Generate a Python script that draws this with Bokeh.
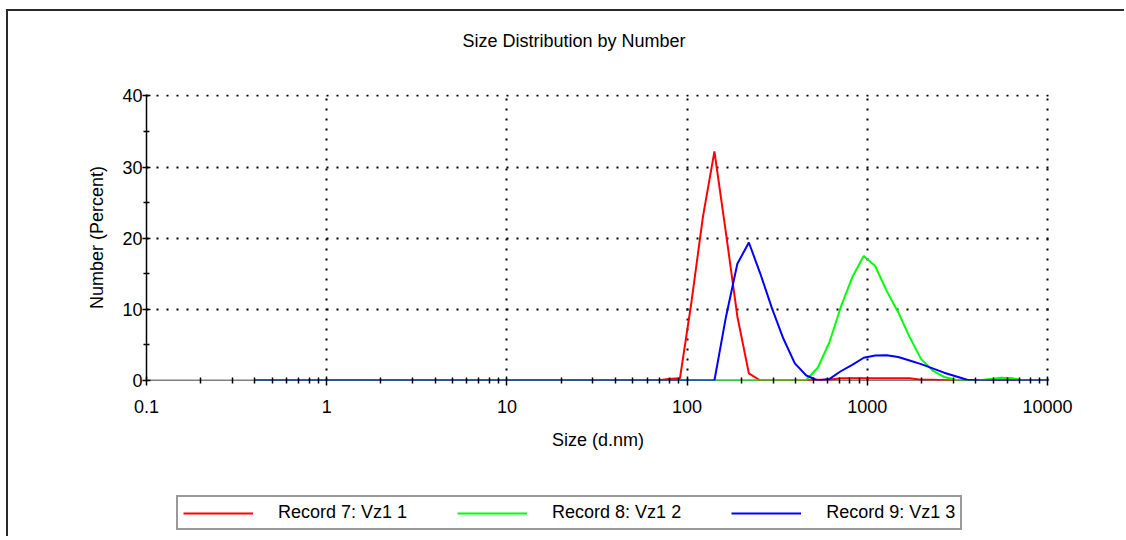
from bokeh.plotting import figure
from bokeh.layouts import column
from bokeh.models import (Range1d, FixedTicker, CustomJSTickFormatter, Legend, LegendItem, Span)
from bokeh.embed import file_html
from bokeh.resources import INLINE

# ---- data ----
sizes = [0.4, 0.4632, 0.5365, 0.6213, 0.7195, 0.8332, 0.9649, 1.117, 1.294, 1.499,
         1.736, 2.01, 2.328, 2.696, 3.122, 3.615, 4.187, 4.849, 5.615, 6.503,
         7.531, 8.721, 10.1, 11.7, 13.54, 15.69, 18.17, 21.04, 24.36, 28.21,
         32.67, 37.84, 43.82, 50.75, 58.77, 68.06, 78.82, 91.28, 105.7, 122.4,
         141.8, 164.2, 190.1, 220.2, 255.0, 295.3, 342.0, 396.1, 458.7, 531.2,
         615.1, 712.4, 825.0, 955.4, 1106, 1281, 1484, 1718, 1990, 2305,
         2669, 3091, 3580, 4145, 4801, 5560, 6439, 7456, 8635, 10000]

record7 = [0]*36 + [0.2, 0.3, 11.0, 23.0, 32.2, 20.8, 9.0, 1.0, 0.0, 0.0,
                    0.0, 0.0, 0.0, 0.1, 0.1, 0.3, 0.3, 0.3, 0.3, 0.3,
                    0.3, 0.3, 0.1, 0.1, 0.05, 0.0, 0.0, 0.0, 0.0, 0.0,
                    0.0, 0.0, 0.0, 0.0]
record8 = [0]*48 + [0.1, 1.8, 5.3, 10.3, 14.5, 17.5, 16.1, 12.6, 9.6, 6.1,
                    3.0, 1.4, 0.5, 0.1, 0.0, 0.0, 0.2, 0.4, 0.3, 0.0,
                    0.0, 0.0]
record9 = [0]*41 + [8.9, 16.4, 19.4, 15.0, 10.2, 5.9, 2.4, 0.7, 0.0, 0.2,
                    1.3, 2.2, 3.2, 3.5, 3.55, 3.3, 2.8, 2.3, 1.7, 1.1,
                    0.6, 0.1, 0.0, 0.0, 0.0, 0.0, 0.0, 0.0, 0.0]

series_names = ["Record 7: Vz1 1", "Record 8: Vz1 2", "Record 9: Vz1 3"]
series_colors = ["#FF0000", "#00FF00", "#0000FF"]

x_ticks = [0.1, 1, 10, 100, 1000, 10000]
x_tick_labels = ["0.1", "1", "10", "100", "1000", "10000"]
y_ticks = [0, 10, 20, 30, 40]
y_minor = [5, 15, 25, 35]

title_text = "Size Distribution by Number"
x_label = "Size (d.nm)"
y_label = "Number (Percent)"

FONT = "Liberation Sans"
FS = "18px"

# ---------------- main chart ----------------
p = figure(width=1116, height=459, x_axis_type="log",
           x_range=Range1d(0.1, 10260), y_range=Range1d(0, 40.2),
           output_backend="svg", toolbar_location=None,
           min_border_left=138, min_border_right=75,
           min_border_top=83, min_border_bottom=90)
p.outline_line_color = None
p.background_fill_color = "white"
p.border_fill_color = "white"

# title (two trailing empty lines lift it away from the frame)
p.title.text = title_text + "\n\n"
p.title.align = "left"
p.title.offset = 316
p.title.standoff = 8
p.title.text_font = FONT
p.title.text_font_size = FS
p.title.text_font_style = "normal"
p.title.text_color = "black"

# grids
p.xgrid.ticker = FixedTicker(ticks=x_ticks[1:])
p.ygrid.ticker = FixedTicker(ticks=y_ticks[1:])
for g in (p.xgrid, p.ygrid):
    g.grid_line_color = "black"
    g.grid_line_width = 2
    g.grid_line_dash = "2 8"

# axes
x_minor = [m * t for t in x_ticks[:-1] for m in range(2, 10)]
p.xaxis.ticker = FixedTicker(ticks=x_ticks, minor_ticks=x_minor)
p.xaxis.formatter = CustomJSTickFormatter(args=dict(labels=x_tick_labels),
                                          code="return labels[index];")
p.yaxis.ticker = FixedTicker(ticks=y_ticks, minor_ticks=y_minor)

for ax in (p.xaxis, p.yaxis):
    ax.axis_line_width = 1.5
    ax.axis_line_color = "black"
    ax.major_tick_line_width = 1.5
    ax.minor_tick_line_width = 1.5
    ax.major_tick_line_color = "black"
    ax.minor_tick_line_color = "black"
    ax.major_label_text_font = FONT
    ax.major_label_text_font_size = FS
    ax.major_label_text_color = "black"
    ax.axis_label_text_font = FONT
    ax.axis_label_text_font_size = FS
    ax.axis_label_text_font_style = "normal"
    ax.axis_label_text_color = "black"

p.xaxis.axis_label = x_label
p.yaxis.axis_label = y_label
p.xaxis.major_tick_in = 4
p.xaxis.major_tick_out = 5
p.xaxis.minor_tick_in = 3
p.xaxis.minor_tick_out = 3
p.xaxis.major_label_standoff = 14
p.xaxis.axis_label_standoff = 14
p.xaxis.axis_line_color = None
p.yaxis.major_tick_in = 4
p.yaxis.major_tick_out = 4
p.yaxis.minor_tick_in = 3
p.yaxis.minor_tick_out = 3
p.yaxis.major_label_standoff = 0
p.yaxis.axis_label_standoff = 12

p.add_layout(Span(location=0, dimension="width", line_color="black",
                  line_width=1.5, level="underlay"))

for vals, col in zip([record7, record8, record9], series_colors):
    p.line(sizes, vals, line_color=col, line_width=2)

# ---------------- legend strip ----------------
q = figure(width=1116, height=66, x_range=Range1d(0, 1), y_range=Range1d(0, 1),
           output_backend="svg", toolbar_location=None,
           x_axis_location=None, y_axis_location=None,
           min_border_left=0, min_border_right=0, min_border_top=0, min_border_bottom=0)
q.outline_line_color = None
q.grid.visible = False
q.background_fill_color = "white"
q.border_fill_color = "white"

leg_renderers = []
for vals, col in zip([record7, record8, record9], series_colors):
    leg_renderers.append(q.line(sizes, vals, line_color=col, line_width=2, visible=False))

legend = Legend(items=[LegendItem(label=n, renderers=[r]) for n, r in zip(series_names, leg_renderers)],
                orientation="horizontal", location=(30, 6),
                glyph_width=70, glyph_height=20, label_standoff=25, spacing=50,
                padding=5, margin=0, border_line_color="#333333", border_line_width=2,
                background_fill_color="white", background_fill_alpha=1,
                inactive_fill_alpha=0,
                label_text_font=FONT, label_text_font_size=FS, label_text_color="black")
q.add_layout(legend, "center")

layout = column(p, q, spacing=0, margin=(9, 0, 0, 6),
                styles={"border-top": "2px solid #2a2a2a", "border-left": "2px solid #2a2a2a"})

open("out.html", "w").write(file_html(layout, INLINE))
